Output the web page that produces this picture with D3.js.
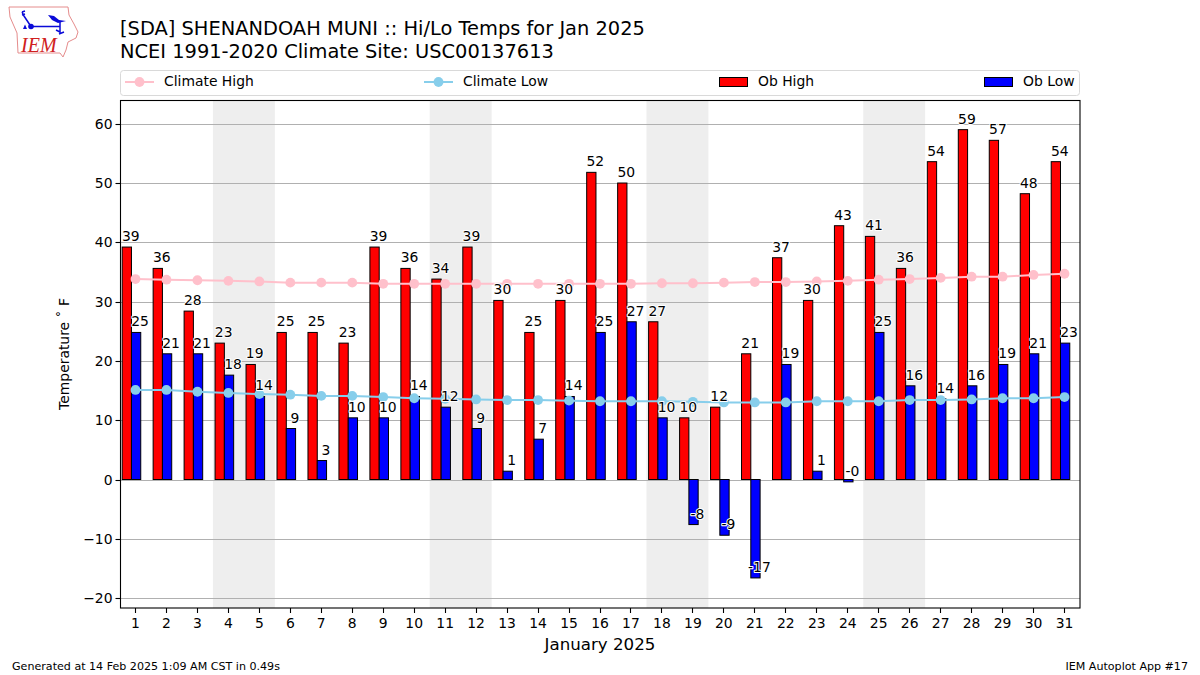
<!DOCTYPE html>
<html><head><meta charset="utf-8">
<style>html,body{margin:0;padding:0;background:#fff}svg{display:block}text{font-family:"DejaVu Sans",sans-serif;fill:#000}</style>
<script src="https://cdn.jsdelivr.net/npm/d3@7"></script></head><body><svg id="c" width="1200" height="675"></svg>
<script>
const days=d3.range(1,32);
const obHigh=[39.2,35.6,28.4,23,19.4,24.8,24.8,23,39.2,35.6,33.8,39.2,30.2,24.8,30.2,51.8,50,26.6,10.4,12.2,21.2,37.4,30.2,42.8,41,35.6,53.6,59,57.2,48.2,53.6];
const obLow=[24.8,21.2,21.2,17.6,14,8.6,3.2,10.4,10.4,14,12.2,8.6,1.4,6.8,14,24.8,26.6,10.4,-7.6,-9.4,-16.6,19.4,1.4,-0.4,24.8,15.8,13.6,15.8,19.4,21.2,23];
const climHigh=[33.8,33.7,33.6,33.5,33.4,33.2,33.2,33.2,33,33,33,33,33,33,33,33,33,33.1,33.1,33.2,33.3,33.3,33.4,33.5,33.7,33.8,34,34.2,34.2,34.5,34.7];
const climLow=[15.1,15.1,14.8,14.6,14.4,14.3,14.1,14.1,13.9,13.7,13.6,13.5,13.4,13.4,13.3,13.2,13.2,13.2,13.1,13,13,13,13.2,13.2,13.2,13.4,13.4,13.5,13.7,13.7,13.9];
const weekends=[[3.5,5.5],[10.5,12.5],[17.5,19.5],[24.5,26.5]];
const yTicks=[-20,-10,0,10,20,30,40,50,60];
const titleLines=["[SDA] SHENANDOAH MUNI :: Hi/Lo Temps for Jan 2025","NCEI 1991-2020 Climate Site: USC00137613"];
const legendItems=["Climate High","Climate Low","Ob High","Ob Low"];

const L=120.5,R=1080,T=100.5,B=608;
const x=d3.scaleLinear().domain([0.5,31.5]).range([120,1080]);
const y=d3.scaleLinear().domain([-21.67,64]).range([608,100]);
const svg=d3.select("#c");
const minus=v=>String(v).replace("-","\u2212");

// weekend shading
svg.append("g").selectAll("rect").data(weekends).join("rect")
 .attr("x",d=>x(d[0])).attr("width",d=>x(d[1])-x(d[0])).attr("y",T).attr("height",B-T).attr("fill","#eeeeee");
// grid
svg.append("g").selectAll("line").data(yTicks).join("line")
 .attr("x1",L).attr("x2",R).attr("y1",d=>Math.round(y(d))+.5).attr("y2",d=>Math.round(y(d))+.5)
 .attr("stroke","#b0b0b0").attr("stroke-width",1);
// bars
const bw=0.3;
function bars(vals,offset,color){
 svg.append("g").selectAll("rect").data(vals).join("rect")
  .attr("x",(d,i)=>x(days[i]+offset)).attr("width",x(bw)-x(0))
  .attr("y",d=>y(Math.max(0,d))).attr("height",d=>Math.abs(y(d)-y(0)))
  .attr("fill",color).attr("stroke","#000").attr("stroke-width",1);
}
bars(obHigh,-0.43,"#ff0000");
bars(obLow,-0.13,"#0000ff");
// climate lines
function clim(vals,color){
 svg.append("path").datum(vals).attr("fill","none").attr("stroke",color).attr("stroke-width",2)
  .attr("d",d3.line().x((d,i)=>x(days[i])).y(d=>y(d)));
 svg.append("g").selectAll("circle").data(vals).join("circle")
  .attr("cx",(d,i)=>x(days[i])).attr("cy",d=>y(d)).attr("r",4.9).attr("fill",color);
}
clim(climHigh,"#ffc0cb");
clim(climLow,"#87ceeb");
// value labels
function labels(vals,offset){
 svg.append("g").selectAll("text").data(vals).join("text")
  .attr("x",(d,i)=>x(days[i]+offset+bw/2)+4).attr("y",d=>y(d)-6)
  .attr("text-anchor","middle").attr("font-size",13.9)
  .attr("stroke","#fff").attr("stroke-width",2).attr("paint-order","stroke").attr("stroke-linejoin","round")
  .text(d=>{const r=Math.round(d);return (r===0&&d<0)?"-0":String(r);});
}
labels(obHigh,-0.43);
labels(obLow,-0.13);
// frame
svg.append("rect").attr("x",L).attr("y",T).attr("width",R-L).attr("height",B-T).attr("fill","none").attr("stroke","#000").attr("stroke-width",1.1);
// axes
const xg=svg.append("g");
xg.selectAll("line").data(days).join("line").attr("x1",d=>Math.floor(x(d))+.5).attr("x2",d=>Math.floor(x(d))+.5).attr("y1",B).attr("y2",B+5).attr("stroke","#000").attr("stroke-width",1.1);
xg.selectAll("text").data(days).join("text").attr("x",d=>x(d)).attr("y",B+20).attr("text-anchor","middle").attr("font-size",13.9).text(d=>d);
const yg=svg.append("g");
yg.selectAll("line").data(yTicks).join("line").attr("x1",L-5).attr("x2",L).attr("y1",d=>Math.round(y(d))+.5).attr("y2",d=>Math.round(y(d))+.5).attr("stroke","#000").attr("stroke-width",1.1);
yg.selectAll("text").data(yTicks).join("text").attr("x",L-8).attr("y",d=>y(d)+5).attr("text-anchor","end").attr("font-size",13.9).text(d=>minus(d));
svg.append("text").attr("x",600).attr("y",650).attr("text-anchor","middle").attr("font-size",16.67).text("January 2025");
svg.append("text").attr("transform","translate(69,354) rotate(-90)").attr("text-anchor","middle").attr("font-size",13.9).text("Temperature \u02da F");
// title
svg.append("g").selectAll("text").data(titleLines).join("text").attr("x",120).attr("y",(d,i)=>35+i*22.5).attr("font-size",19.42).text(d=>d);
// legend
svg.append("rect").attr("x",120.5).attr("y",70.5).attr("width",959).attr("height",25).attr("rx",3).attr("fill","#fff").attr("stroke","#d9d9d9").attr("stroke-width",1);
const lg=[125,424,719,984], lt=[164,463,758,1023];
legendItems.forEach((t,i)=>{
 const ly=82;
 if(i<2){const c=i==0?"#ffc0cb":"#87ceeb";
  svg.append("line").attr("x1",lg[i]).attr("x2",lg[i]+29).attr("y1",ly).attr("y2",ly).attr("stroke",c).attr("stroke-width",2);
  svg.append("circle").attr("cx",lg[i]+14.5).attr("cy",ly).attr("r",4.9).attr("fill",c);
 } else {
  svg.append("rect").attr("x",lg[i]+.5).attr("y",77.5).attr("width",28).attr("height",9).attr("fill",i==2?"#ff0000":"#0000ff").attr("stroke","#000").attr("stroke-width",1);
 }
 svg.append("text").attr("x",lt[i]).attr("y",86).attr("font-size",13.9).text(t);
});
// footer
svg.append("text").attr("x",12).attr("y",670).attr("font-size",11.1).text("Generated at 14 Feb 2025 1:09 AM CST in 0.49s");
svg.append("text").attr("x",1188).attr("y",670).attr("text-anchor","end").attr("font-size",11.1).text("IEM Autoplot App #17");
// logo
const logo=svg.append("g");
logo.append("path").attr("d","M9 7 L68 7 L69 15 L74 24 L78 32 L76 38 L68 42 L66 50 L63 57 L60 53 L18 53 L17 33 L10 17 Z").attr("fill","#fff").attr("stroke","#e58c8c").attr("stroke-width",1);
const blue="#0a0ad8";
logo.append("path").attr("d","M31 26.5 L60 26.5 M30 25 L24 16 L22 12 M22 12 L25 11 M22 15 L25 14 M60 22 L60 34 M56 30 L60 32 M59 34 L64 32").attr("fill","none").attr("stroke",blue).attr("stroke-width",1.5);
logo.append("path").attr("d","M48 15 L54 16 L59 20 L66 21 L58 23 L52 20 Z").attr("fill",blue);
logo.append("circle").attr("cx",31).attr("cy",26.5).attr("r",2.8).attr("fill",blue);
logo.append("path").attr("d","M25 24.5 L27 29 L23 29 Z").attr("fill",blue);
logo.append("text").attr("x",21).attr("y",52).attr("font-style","italic").attr("font-size",20).style("font-family","'Liberation Serif'").style("fill","#d02020").text("IEM");
</script></body></html>
